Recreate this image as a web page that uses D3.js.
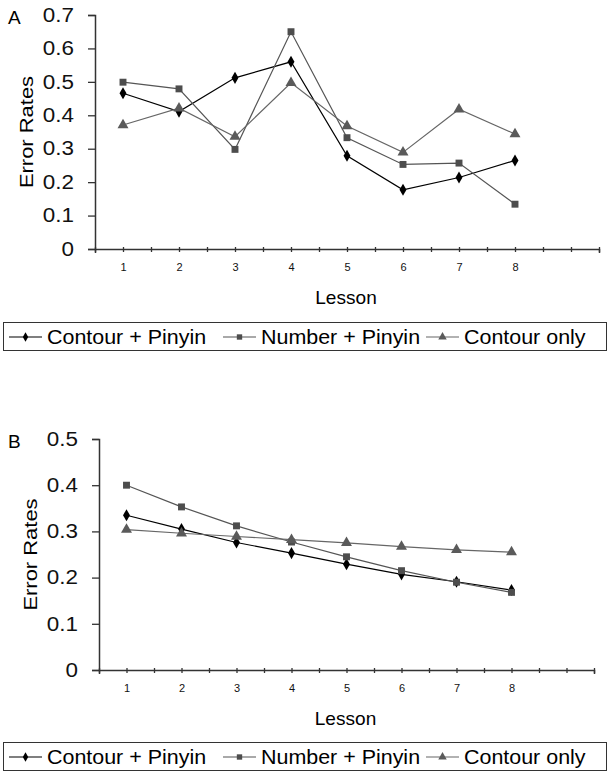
<!DOCTYPE html>
<html>
<head>
<meta charset="utf-8">
<script src="https://cdn.jsdelivr.net/npm/d3@7"></script>
<style>
  body { margin: 0; background: #fff; }
  svg { font-family: "Liberation Sans", Arial, sans-serif; }
</style>
</head>
<body>
<div id="chart"></div>
<script>
// lessons on the x axis
const lessons = [1, 2, 3, 4, 5, 6, 7, 8];
const seriesNames = ['Contour + Pinyin', 'Number + Pinyin', 'Contour only'];

// panel A values
const aContourPinyin = [0.466, 0.411, 0.512, 0.560, 0.279, 0.177, 0.214, 0.265];
const aNumberPinyin = [0.499, 0.479, 0.298, 0.650, 0.333, 0.253, 0.257, 0.134];
const aContourOnly = [0.371, 0.421, 0.336, 0.497, 0.368, 0.289, 0.418, 0.344];

// panel B values
const bContourPinyin = [0.335, 0.305, 0.276, 0.253, 0.229, 0.207, 0.191, 0.173];
const bNumberPinyin = [0.400, 0.353, 0.312, 0.277, 0.245, 0.215, 0.190, 0.168];
const bContourOnly = [0.304, 0.296, 0.289, 0.282, 0.275, 0.267, 0.260, 0.255];

const aTicks = [0, 0.1, 0.2, 0.3, 0.4, 0.5, 0.6, 0.7];
const bTicks = [0, 0.1, 0.2, 0.3, 0.4, 0.5];

const width = 612, height = 774;
const svg = d3.select('#chart').append('svg')
    .attr('width', width)
    .attr('height', height);

const styles = [
    { color: '#000', line: '#000', symbol: d3.symbolDiamond, size: 42 },
    { color: '#4d4d4d', line: '#555', symbol: d3.symbolSquare, size: 48 },
    { color: '#5a5a5a', line: '#666', symbol: d3.symbolTriangle, size: 52 }
];

// the original lettering is a wide grotesque, so stretch glyphs a little
const tickStretch = 1.15;

function drawPanel(p) {
    const g = svg.append('g');
    const x = d3.scaleLinear().domain([0.5, 9.5]).range([p.left, p.right]);
    const y = d3.scaleLinear().domain([0, d3.max(p.ticks)]).range([p.bottom, p.top]);

    // y axis
    const yAxis = g.append('g')
        .attr('transform', `translate(${p.left},0)`)
        .call(d3.axisLeft(y).tickValues(p.ticks).tickSize(7)
            .tickFormat(d => d === 0 ? '0' : d3.format('.1f')(d)));
    yAxis.selectAll('text')
        .style('font-size', '19.5px')
        .attr('fill', '#111')
        .attr('x', -21 / tickStretch)
        .attr('transform', `scale(${tickStretch},1)`);

    // x axis, ticks at lesson centers and halfway between
    const xAxis = g.append('g')
        .attr('transform', `translate(0,${p.bottom})`)
        .call(d3.axisBottom(x).tickValues(d3.range(0.5, 9.51, 0.5)).tickSize(4).tickPadding(10)
            .tickFormat(d => (Number.isInteger(d) && d <= 8) ? d : ''));
    xAxis.selectAll('.tick line').attr('y1', -2).attr('y2', 3);
    xAxis.selectAll('text').style('font-size', '11px').attr('fill', '#111');

    [yAxis, xAxis].forEach(a => {
        a.select('.domain').attr('stroke', '#333').attr('stroke-width', 1.5);
        a.selectAll('.tick line').attr('stroke', '#333').attr('stroke-width', 1.3);
    });

    // series lines and markers
    p.series.forEach((vals, i) => {
        const s = styles[i];
        const pts = lessons.map((l, j) => [l, vals[j]]);
        g.append('path')
            .datum(pts)
            .attr('fill', 'none')
            .attr('stroke', s.line)
            .attr('stroke-width', 1.2)
            .attr('d', d3.line().x(d => x(d[0])).y(d => y(d[1])));
        g.selectAll(null)
            .data(pts)
            .enter()
            .append('path')
            .attr('transform', d => `translate(${x(d[0])},${y(d[1])})`)
            .attr('d', d3.symbol().type(s.symbol).size(s.size))
            .attr('fill', s.color);
    });

    // labels
    g.append('text')
        .attr('x', 8).attr('y', p.top + 9)
        .style('font-size', '19px')
        .text(p.letter);

    g.append('text')
        .attr('transform', `translate(${p.left - 62},${(p.top + p.bottom) / 2}) rotate(-90) scale(1.22,1)`)
        .attr('text-anchor', 'middle')
        .style('font-size', '18px')
        .text('Error Rates');

    g.append('text')
        .attr('transform', `translate(${(p.left + p.right) / 2 - 1},${p.bottom + 55}) scale(1.06,1)`)
        .attr('text-anchor', 'middle')
        .style('font-size', '18px')
        .text('Lesson');

    // legend
    const lg = g.append('g').attr('transform', `translate(0,${p.legendY})`);
    lg.append('rect')
        .attr('x', 3.5).attr('y', 0.5)
        .attr('width', 603).attr('height', 28)
        .attr('fill', 'none')
        .attr('stroke', '#333')
        .attr('stroke-width', 1);
    const entryX = [9, 223, 426];
    seriesNames.forEach((name, i) => {
        const s = styles[i];
        const ex = entryX[i];
        lg.append('line')
            .attr('x1', ex).attr('x2', ex + 33)
            .attr('y1', 15).attr('y2', 15)
            .attr('stroke', s.line).attr('stroke-width', 1.2);
        lg.append('path')
            .attr('transform', `translate(${ex + 16.5},15)`)
            .attr('d', d3.symbol().type(s.symbol).size(s.size * 0.6))
            .attr('fill', s.color);
        lg.append('text')
            .attr('transform', `translate(${ex + 38},21.5) scale(1.1,1)`)
            .style('font-size', '19.5px')
            .text(name);
    });
}

drawPanel({
    letter: 'A', left: 95, right: 599, top: 15, bottom: 249,
    ticks: aTicks, legendY: 322,
    series: [aContourPinyin, aNumberPinyin, aContourOnly]
});

drawPanel({
    letter: 'B', left: 99, right: 594, top: 439, bottom: 670,
    ticks: bTicks, legendY: 742,
    series: [bContourPinyin, bNumberPinyin, bContourOnly]
});
</script>
</body>
</html>
